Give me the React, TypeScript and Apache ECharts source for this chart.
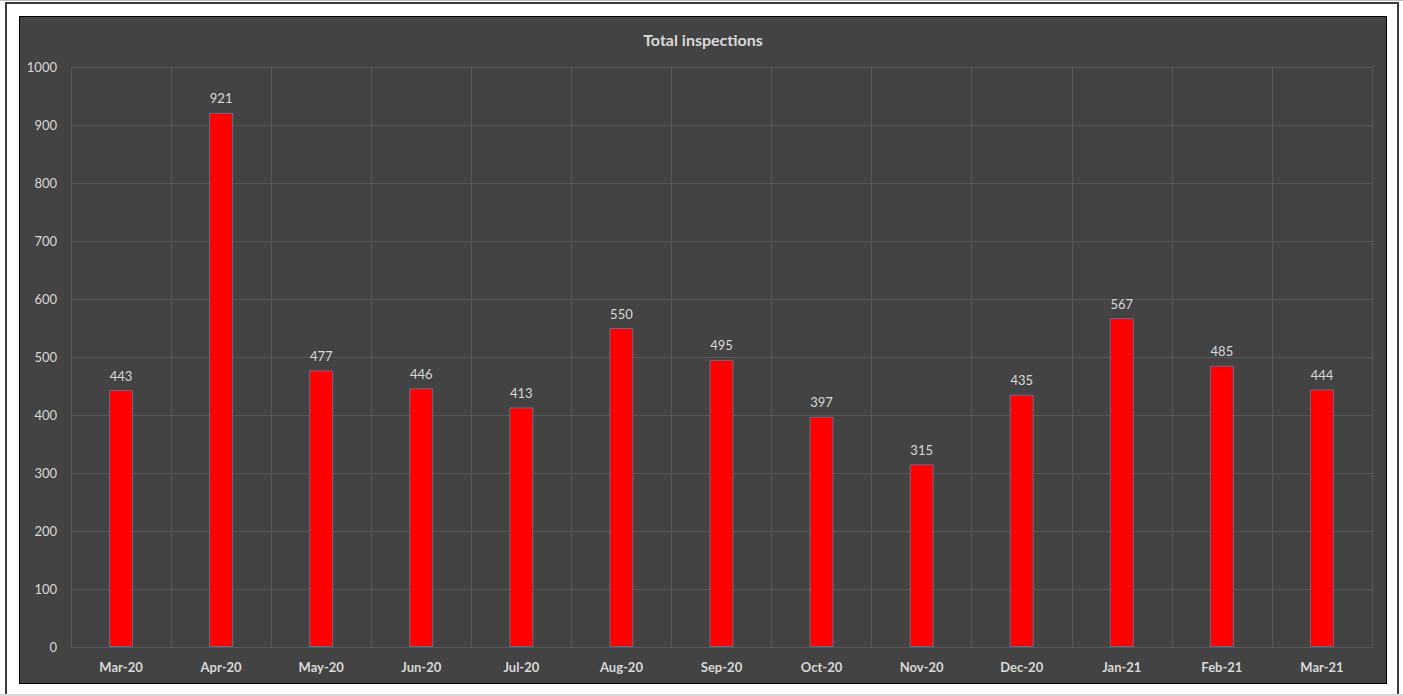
import React, { useEffect, useRef } from "react";
import * as echarts from "echarts";

const categories = ["Mar-20", "Apr-20", "May-20", "Jun-20", "Jul-20", "Aug-20", "Sep-20", "Oct-20", "Nov-20", "Dec-20", "Jan-21", "Feb-21", "Mar-21"];
const inspections = [443, 921, 477, 446, 413, 550, 495, 397, 315, 435, 567, 485, 444];
const chartTitle = "Total inspections";

export default function App() {
  const ref = useRef<HTMLDivElement>(null);
  useEffect(() => {
    if (!ref.current) return;
    const chart = echarts.init(ref.current, null, { renderer: "svg" });
    const font = "Lato, 'Open Sans', sans-serif";
    chart.setOption({
      animation: false,
      backgroundColor: "#434343",
      title: {
        text: chartTitle,
        left: "center",
        top: 9,
        textStyle: { color: "#d9d9d9", fontSize: 16, fontWeight: "bold", fontFamily: font },
      },
      grid: { left: 51, right: 14, top: 50, bottom: 36 },
      xAxis: {
        type: "category",
        data: categories,
        axisLine: { show: true, lineStyle: { color: "#575757" } },
        axisTick: { show: false },
        axisLabel: { color: "#d9d9d9", fontSize: 13, fontWeight: "bold", fontFamily: font, margin: 13, interval: 0 },
        splitLine: { show: true, interval: 0, lineStyle: { color: "#575757", width: 1 } },
      },
      yAxis: {
        type: "value",
        min: 0,
        max: 1000,
        interval: 100,
        axisLine: { show: false },
        axisTick: { show: false },
        axisLabel: { color: "#d9d9d9", fontSize: 13, fontFamily: font, margin: 14, formatter: (v: number) => String(v) },
        splitLine: { show: true, lineStyle: { color: "#575757", width: 1 } },
      },
      series: [
        {
          type: "bar",
          data: inspections,
          barWidth: 24,
          itemStyle: { color: "#ff0000", borderColor: "#6a6a8a", borderWidth: 1 },
          label: {
            show: true,
            position: "top",
            distance: 8,
            color: "#d9d9d9",
            fontSize: 13,
            fontFamily: font,
          },
        },
      ],
    });
    return () => chart.dispose();
  }, []);

  return (
    <div style={{ position: "fixed", left: 0, top: 0, width: 1403, height: 696, background: "#ffffff", overflow: "hidden" }}>
      <div style={{ position: "absolute", left: 0, top: 0, width: 1403, height: 1, background: "#bdbdbd" }} />
      <div style={{ position: "absolute", left: 5, top: 2, width: 1394, height: 2, background: "#3a3a3a" }} />
      <div style={{ position: "absolute", left: 5, top: 2, width: 2, height: 694, background: "#3a3a3a" }} />
      <div style={{ position: "absolute", left: 1397, top: 2, width: 2, height: 694, background: "#3a3a3a" }} />
      <div style={{ position: "absolute", left: 0, top: 694, width: 1403, height: 2, background: "#d8d8d8" }} />
      <div style={{ position: "absolute", left: 19, top: 16, width: 1366, height: 666, border: "1px solid #000000", background: "#434343" }}>
        <div ref={ref} style={{ width: 1366, height: 666 }} />
      </div>
    </div>
  );
}
